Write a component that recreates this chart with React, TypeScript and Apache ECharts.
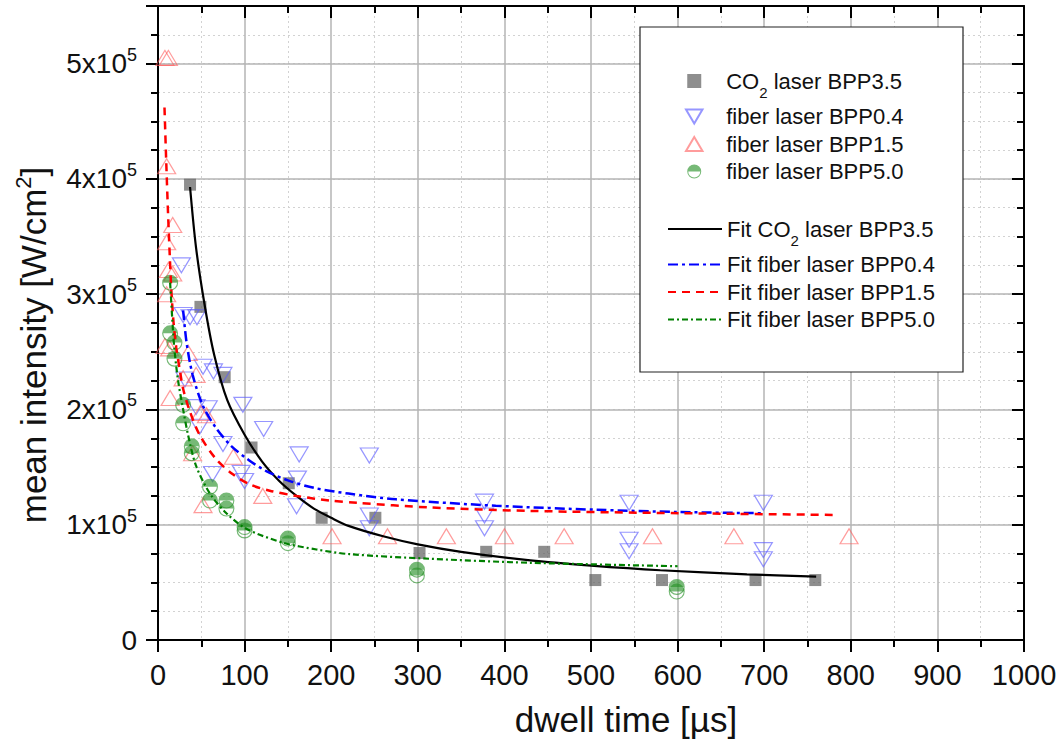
import React, { useEffect, useRef } from 'react';
import * as echarts from 'echarts';

const FONT = '"Liberation Sans", Arial, Helvetica, sans-serif';

// ---- axis ticks ----
const xMin = 0;
const xMax = 1000;
const xStep = 100;
const yMin = 0;
const yMax = 550000;
const yStep = 100000;
const yMinorStep = 25000;

// ---- measured points (dwell time [µs], mean intensity [W/cm²]) ----
const co2X = [37, 49, 77, 108, 151, 189, 251, 302, 379, 446, 505, 582, 690, 759];
const co2Y = [395000, 289000, 228000, 167000, 136000, 106000, 106000, 75500, 76500, 76500, 52000, 52000, 52000, 52000];

const bpp04X = [27, 29, 37, 45, 31, 52, 64, 75, 44, 58, 48, 75, 98, 122, 63, 96, 100, 163, 161, 160, 244, 244, 244, 377, 377, 377, 544, 544, 544, 699, 699, 699];
const bpp04Y = [325000, 282000, 280000, 280000, 226000, 237000, 233000, 230000, 202000, 201000, 185000, 170000, 204000, 183000, 144000, 145000, 138000, 161000, 140000, 116000, 160000, 108000, 97000, 120000, 108000, 97000, 119000, 87000, 77000, 119000, 78000, 70000];

const bpp15X = [8, 12, 10, 17, 10, 12, 17, 10, 13.5, 8, 35, 14, 29, 44, 49, 56, 40, 87, 52, 121, 201, 265, 333, 400, 469, 571, 665, 798];
const bpp15Y = [505000, 505000, 411000, 360000, 345000, 321000, 318000, 300000, 253000, 255000, 249000, 210000, 227000, 230000, 197000, 195000, 162000, 159000, 117000, 125000, 90000, 90000, 90000, 90000, 90000, 90000, 90000, 90000];

const bpp50X = [14, 14, 19, 19, 29, 29, 39, 39, 60, 60, 79, 79, 100, 100, 150, 150, 299, 299, 599, 599];
const bpp50Y = [310000, 266000, 258000, 244000, 204000, 188000, 168000, 162000, 133000, 121000, 121000, 114000, 98000, 95000, 88000, 84000, 61000, 56000, 46000, 42000];

// ---- fit curves ----
const fitCo2X = [37, 44, 54, 65, 80, 100, 120, 140, 160, 180, 200, 220, 260, 300, 350, 430, 500, 580, 680, 760];
const fitCo2Y = [393000, 340000, 290000, 247000, 208000, 178000, 155000, 138000, 125000, 114000, 106000, 99000, 90000, 83000, 76500, 69000, 64500, 60500, 57000, 55000];

const fit04X = [29, 33, 40, 52, 67, 85, 105, 125, 150, 180, 220, 275, 390, 506, 602, 700];
const fit04Y = [286000, 258000, 230000, 203000, 184000, 168000, 156000, 146500, 138500, 132000, 127000, 122000, 116500, 113000, 111000, 110000];

const fit15X = [7.5, 9.5, 11.5, 13.5, 15.5, 18, 21, 25, 29, 36, 48, 67, 86, 106, 129, 160, 198, 230, 313, 429, 602, 785];
const fit15Y = [462000, 415000, 372000, 335000, 302000, 275000, 254000, 235000, 218000, 200000, 178000, 157000, 144000, 135000, 129500, 125000, 121000, 119000, 115000, 112000, 110000, 108500];

const fit50X = [14, 17, 19, 23, 29, 35, 44, 60, 79, 102, 144, 183, 221, 313, 429, 600];
const fit50Y = [310000, 272000, 252000, 226000, 200000, 177000, 151000, 127000, 110000, 96500, 84500, 78500, 74500, 70500, 67000, 64000];

const seriesNames = [
  'CO2 laser BPP3.5',
  'fiber laser BPP0.4',
  'fiber laser BPP1.5',
  'fiber laser BPP5.0',
];
const fitNames = [
  'Fit CO2 laser BPP3.5',
  'Fit fiber laser BPP0.4',
  'Fit fiber laser BPP1.5',
  'Fit fiber laser BPP5.0',
];

const zip = (xs: number[], ys: number[]) => xs.map((x, i) => [x, ys[i]]);

const HALF_CIRCLE =
  'path://M0,10 A10,10 0 0 1 20,10 Z M0,10 A10,10 0 0 0 20,10 L18.6,10 A8.6,8.6 0 0 1 1.4,10 Z';
const SQUARE = 'path://M0,0 L10,0 L10,10 L0,10 Z';
const TRI_DOWN = 'path://M0,0 L20,0 L10,17 Z';
const TRI_UP = 'path://M10,0 L20,17 L0,17 Z';

const legendRich = {
  n: { fontSize: 22, lineHeight: 22, fontFamily: FONT, color: '#111' },
  c: { fontSize: 22, lineHeight: 38, fontFamily: FONT, color: '#111' },
  s: { fontSize: 15, lineHeight: 14, verticalAlign: 'bottom', fontFamily: FONT, color: '#111' },
};
const legendFormatter = (name: string) => {
  if (name.indexOf('CO2') >= 0) {
    const [a, b] = name.split('CO2');
    return `{c|${a}CO}{s|2}{c|${b}}`;
  }
  return `{n|${name}}`;
};

export default function App() {
  const ref = useRef<HTMLDivElement>(null);
  useEffect(() => {
    if (!ref.current) return;
    const chart = echarts.init(ref.current, undefined, { renderer: 'svg' });
    const majorGrid = { show: true, lineStyle: { color: '#b4b4b4', width: 1.5 } };
    const minorGrid = { show: true, lineStyle: { color: '#d2d2d2', width: 1, type: [2, 3] } };
    const axisLine = { show: true, onZero: false, lineStyle: { color: '#000', width: 2 } };
    const tickStyle = { color: '#000', width: 2 };
    const option: any = {
      animation: false,
      backgroundColor: '#fff',
      grid: { left: 158, right: 33, top: 6, bottom: 104, containLabel: false, outerBoundsMode: 'none' },
      xAxis: [
        {
          type: 'value', position: 'bottom', min: xMin, max: xMax, interval: xStep,
          axisLine, axisTick: { show: true, length: 12, lineStyle: tickStyle },
          minorTick: { show: true, splitNumber: 2, length: 7, lineStyle: tickStyle },
          splitLine: majorGrid, minorSplitLine: minorGrid,
          axisLabel: {
            fontSize: 29, lineHeight: 30, margin: 20, color: '#111', fontFamily: FONT,
            formatter: (v: number) => String(v),
          },
          name: 'dwell time [µs]', nameLocation: 'middle', nameGap: 59, nameMoveOverlap: false,
          nameTextStyle: { fontSize: 35, lineHeight: 40, color: '#111', fontFamily: FONT, padding: [0, 0, 0, 70] },
        },
        {
          type: 'value', position: 'top', min: xMin, max: xMax, interval: xStep,
          axisLine, axisTick: { show: true, inside: true, length: 12, lineStyle: tickStyle },
          minorTick: { show: true, splitNumber: 2, length: 7, lineStyle: tickStyle },
          axisLabel: { show: false }, splitLine: { show: false },
        },
      ],
      yAxis: [
        {
          type: 'value', position: 'left', min: yMin, max: yMax, interval: yMinorStep,
          axisLine: { show: false, onZero: false },
          axisTick: { show: true, length: 7, lineStyle: tickStyle },
          axisLabel: { show: false }, splitLine: minorGrid,
        },
        {
          type: 'value', position: 'left', min: yMin, max: yMax, interval: yStep,
          axisLine, axisTick: { show: true, length: 12, lineStyle: tickStyle },
          splitLine: majorGrid,
          axisLabel: {
            margin: 21, color: '#111', fontFamily: FONT,
            formatter: (v: number) => {
              if (v % yStep !== 0) return '';
              if (v === 0) return '{n|0}';
              return `{n|${v / yStep}x10}{p|5}`;
            },
            rich: {
              n: { fontSize: 28, lineHeight: 36, fontFamily: FONT, color: '#111' },
              p: { fontSize: 18, lineHeight: 18, verticalAlign: 'top', fontFamily: FONT, color: '#111' },
            },
          },
          name: '{n|mean intensity [W/cm}{p|2}{n|]}', nameLocation: 'middle', nameGap: 104, nameMoveOverlap: false,
          nameTextStyle: {
            color: '#111', fontFamily: FONT, padding: [0, 44, 0, 0],
            rich: {
              n: { fontSize: 35, lineHeight: 42, fontFamily: FONT, color: '#111' },
              p: { fontSize: 22, lineHeight: 22, verticalAlign: 'top', fontFamily: FONT, color: '#111' },
            },
          },
        },
        {
          type: 'value', position: 'right', min: yMin, max: yMax, interval: yStep,
          axisLine, axisTick: { show: true, inside: true, length: 12, lineStyle: tickStyle },
          axisLabel: { show: false }, splitLine: { show: false },
        },
        {
          type: 'value', position: 'right', min: yMin, max: yMax, interval: yMinorStep,
          axisLine: { show: false, onZero: false },
          axisTick: { show: true, inside: true, length: 7, lineStyle: tickStyle },
          axisLabel: { show: false }, splitLine: { show: false },
        },
      ],
      legend: [
        {
          data: seriesNames, orient: 'vertical', left: 685, top: 70, padding: 0,
          itemWidth: 54, itemHeight: 14, itemGap: 5.5, selectedMode: false, z: 6,
          formatter: legendFormatter, textStyle: { rich: legendRich, fontFamily: FONT, fontSize: 22 },
        },
        {
          data: fitNames, orient: 'vertical', left: 667, top: 218, padding: 0,
          itemWidth: 54, itemHeight: 14, itemGap: 5.5, selectedMode: false, z: 6,
          itemStyle: { opacity: 0 },
          formatter: legendFormatter, textStyle: { rich: legendRich, fontFamily: FONT, fontSize: 22 },
        },
      ],
      graphic: [
        {
          type: 'rect', z: 4,
          shape: { x: 640, y: 27, width: 323, height: 345 },
          style: { fill: '#fff', stroke: '#222', lineWidth: 1.2 },
        },
      ],
      series: [
        {
          name: seriesNames[0], type: 'scatter', yAxisIndex: 1, data: zip(co2X, co2Y),
          symbol: SQUARE, symbolSize: 12, z: 2,
          itemStyle: { color: 'rgba(95,95,95,0.88)' },
        },
        {
          name: seriesNames[1], type: 'scatter', yAxisIndex: 1, data: zip(bpp04X, bpp04Y),
          symbol: TRI_DOWN, symbolSize: [18, 15], z: 2,
          itemStyle: { color: 'rgba(0,0,0,0)', borderColor: 'rgba(90,90,255,0.8)', borderWidth: 1.2 },
        },
        {
          name: seriesNames[2], type: 'scatter', yAxisIndex: 1, data: zip(bpp15X, bpp15Y),
          symbol: TRI_UP, symbolSize: [18, 15], z: 2,
          itemStyle: { color: 'rgba(0,0,0,0)', borderColor: 'rgba(255,90,90,0.75)', borderWidth: 1.2 },
        },
        {
          name: seriesNames[3], type: 'scatter', yAxisIndex: 1, data: zip(bpp50X, bpp50Y),
          symbol: HALF_CIRCLE, symbolSize: 16, z: 2,
          itemStyle: { color: 'rgba(40,145,40,0.8)' },
        },
        {
          name: fitNames[0], type: 'line', yAxisIndex: 1, data: zip(fitCo2X, fitCo2Y),
          smooth: 0.3, symbol: 'none', showSymbol: false, z: 3,
          lineStyle: { color: '#000', width: 2.2, type: 'solid' }, itemStyle: { color: '#000', opacity: 0 },
        },
        {
          name: fitNames[1], type: 'line', yAxisIndex: 1, data: zip(fit04X, fit04Y),
          smooth: 0.3, symbol: 'none', showSymbol: false, z: 3,
          lineStyle: { color: '#0000ff', width: 2.5, type: [10, 4, 3, 4] }, itemStyle: { color: '#0000ff', opacity: 0 },
        },
        {
          name: fitNames[2], type: 'line', yAxisIndex: 1, data: zip(fit15X, fit15Y),
          smooth: 0.3, symbol: 'none', showSymbol: false, z: 3,
          lineStyle: { color: '#ff0000', width: 2.5, type: [8, 6] }, itemStyle: { color: '#ff0000', opacity: 0 },
        },
        {
          name: fitNames[3], type: 'line', yAxisIndex: 1, data: zip(fit50X, fit50Y),
          smooth: 0.3, symbol: 'none', showSymbol: false, z: 3,
          lineStyle: { color: '#008000', width: 2.2, type: [6, 3, 2, 3] }, itemStyle: { color: '#008000', opacity: 0 },
        },
      ],
    };
    chart.setOption(option);
    return () => chart.dispose();
  }, []);
  return (
    <div
      ref={ref}
      style={{ position: 'absolute', left: 0, top: 0, width: 1057, height: 744, background: '#fff' }}
    />
  );
}
